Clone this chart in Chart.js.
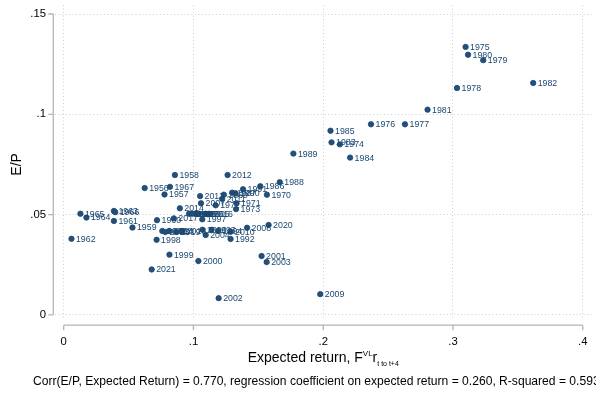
<!DOCTYPE html>
<html>
<head>
<meta charset="utf-8">
<script src="https://cdn.jsdelivr.net/npm/chart.js@4.4.1/dist/chart.umd.min.js"></script>
<style>
  html, body { margin: 0; padding: 0; background: #ffffff; }
  #wrap { width: 596px; height: 394px; }
</style>
</head>
<body>
<div id="wrap"><canvas id="c" width="596" height="394"></canvas></div>
<script>
// Year of each observation
const years = [
  1956, 1957, 1958, 1959, 1960, 1961, 1962, 1963, 1964, 1965,
  1966, 1967, 1968, 1969, 1970, 1971, 1972, 1973, 1974, 1975,
  1976, 1977, 1978, 1979, 1980, 1981, 1982, 1983, 1984, 1985,
  1986, 1987, 1988, 1989, 1990, 1991, 1992, 1993, 1994, 1995,
  1996, 1997, 1998, 1999, 2000, 2001, 2002, 2003, 2004, 2005,
  2006, 2007, 2008, 2009, 2010, 2011, 2012, 2013, 2014, 2015,
  2016, 2017, 2018, 2019, 2020, 2021, 2022, 2023, 2024
];
// Expected return, F^VL r (t to t+4)
const expectedReturn = [
  0.0624, 0.0777, 0.0857, 0.0530, 0.0719, 0.0387, 0.0060, 0.0387, 0.0175, 0.0129,
  0.0397, 0.0819, 0.0966, 0.1234, 0.1566, 0.1332, 0.1171, 0.1328, 0.2128, 0.3097,
  0.2368, 0.2630, 0.3031, 0.3233, 0.3116, 0.2804, 0.3618, 0.2064, 0.2207, 0.2056,
  0.1515, 0.1298, 0.1665, 0.1770, 0.1324, 0.1382, 0.1286, 0.1140, 0.1190, 0.1018,
  0.1043, 0.1068, 0.0716, 0.0815, 0.1038, 0.1525, 0.1194, 0.1564, 0.1094, 0.1094,
  0.1070, 0.1058, 0.1413, 0.1977, 0.1286, 0.1221, 0.1263, 0.1051, 0.0895, 0.0992,
  0.1119, 0.0849, 0.0913, 0.0867, 0.1579, 0.0678, 0.0760, 0.0783, 0.0813
];
// Earnings yield, E/P
const earningsYield = [
  0.0632, 0.0600, 0.0697, 0.0435, 0.0472, 0.0468, 0.0379, 0.0518, 0.0485, 0.0504,
  0.0512, 0.0638, 0.0504, 0.0599, 0.0599, 0.0556, 0.0546, 0.0527, 0.0850, 0.1336,
  0.0950, 0.0950, 0.1131, 0.1270, 0.1297, 0.1023, 0.1156, 0.0860, 0.0784, 0.0918,
  0.0641, 0.0609, 0.0661, 0.0804, 0.0606, 0.0626, 0.0378, 0.0424, 0.0418, 0.0504,
  0.0504, 0.0476, 0.0374, 0.0300, 0.0268, 0.0293, 0.0083, 0.0263, 0.0398, 0.0504,
  0.0424, 0.0556, 0.0434, 0.0103, 0.0414, 0.0578, 0.0697, 0.0592, 0.0531, 0.0504,
  0.0504, 0.0481, 0.0418, 0.0413, 0.0448, 0.0226, 0.0418, 0.0413, 0.0418
];
// Axis tick values
const xTickValues = [0, 0.1, 0.2, 0.3, 0.4];
const yTickValues = [0, 0.05, 0.1, 0.15];

const xTitleMain = 'Expected return, F';
const xTitleSup = 'VL';
const xTitleMid = 'r';
const xTitleSub = 't to t+4';
const yTitle = 'E/P';
const noteText = 'Corr(E/P, Expected Return) = 0.770, regression coefficient on expected return = 0.260, R-squared = 0.593';

const FONT = "'Liberation Sans', Arial, Helvetica, sans-serif";
const NAVY = '#1a476f';
const AXIS_GRAY = '#b4b4b4';

Chart.defaults.font.family = FONT;

// Stata-style tick labels: no leading zero
function fmt(v) {
  if (Math.abs(v) < 1e-9) return '0';
  let s = String(Math.round(v * 1000) / 1000);
  return s.replace(/^0\./, '.');
}

// Keep the plot region fixed: no extra margins for edge labels
function noPad(s) {
  s.paddingLeft = 0; s.paddingRight = 0; s.paddingTop = 0; s.paddingBottom = 0;
}

const points = years.map((yr, i) => ({ x: expectedReturn[i], y: earningsYield[i], year: yr }));

// Offset axis lines with outward ticks, spanning only the tick range
const axisPlugin = {
  id: 'offsetAxes',
  afterDraw(chart) {
    const { ctx, scales: { x, y } } = chart;
    ctx.save();
    ctx.strokeStyle = AXIS_GRAY;
    ctx.lineWidth = 1.3;
    const yAxisX = 53.3;
    const xAxisY = 325.2;
    ctx.beginPath();
    ctx.moveTo(yAxisX, y.getPixelForValue(yTickValues[yTickValues.length - 1]));
    ctx.lineTo(yAxisX, y.getPixelForValue(yTickValues[0]));
    yTickValues.forEach(v => {
      const py = y.getPixelForValue(v);
      ctx.moveTo(yAxisX, py);
      ctx.lineTo(yAxisX - 5, py);
    });
    ctx.moveTo(x.getPixelForValue(xTickValues[0]), xAxisY);
    ctx.lineTo(x.getPixelForValue(xTickValues[xTickValues.length - 1]), xAxisY);
    xTickValues.forEach(v => {
      const px = x.getPixelForValue(v);
      ctx.moveTo(px, xAxisY);
      ctx.lineTo(px, xAxisY + 5);
    });
    ctx.stroke();

    // Axis titles and note
    ctx.fillStyle = '#000';
    ctx.textBaseline = 'alphabetic';
    // y title
    ctx.save();
    ctx.translate(21, (y.getPixelForValue(0) + y.getPixelForValue(0.15)) / 2);
    ctx.rotate(-Math.PI / 2);
    ctx.font = '14px ' + FONT;
    ctx.textAlign = 'center';
    ctx.fillText(yTitle, 0, 0);
    ctx.restore();

    // x title with superscript and subscript
    const fMain = '14px ' + FONT, fSup = '8px ' + FONT, fSub = '7px ' + FONT;
    ctx.font = fMain; const w1 = ctx.measureText(xTitleMain).width;
    ctx.font = fSup;  const w2 = ctx.measureText(xTitleSup).width;
    ctx.font = fMain; const w3 = ctx.measureText(xTitleMid).width;
    ctx.font = fSub;  const w4 = ctx.measureText(xTitleSub).width;
    const total = w1 + w2 + w3 + w4;
    const cx = (x.getPixelForValue(0) + x.getPixelForValue(0.4)) / 2;
    let tx = cx - total / 2;
    const base = 362;
    ctx.textAlign = 'left';
    ctx.font = fMain; ctx.fillText(xTitleMain, tx, base); tx += w1;
    ctx.font = fSup;  ctx.fillText(xTitleSup, tx, base - 6); tx += w2;
    ctx.font = fMain; ctx.fillText(xTitleMid, tx, base); tx += w3;
    ctx.font = fSub;  ctx.fillText(xTitleSub, tx, base + 4);

    // note
    ctx.font = '12.1px ' + FONT;
    ctx.fillText(noteText, 33, 385);
    ctx.restore();
  }
};

// Year labels to the right of each marker
const yearLabelPlugin = {
  id: 'yearLabels',
  afterDatasetsDraw(chart) {
    const { ctx } = chart;
    const meta = chart.getDatasetMeta(0);
    ctx.save();
    ctx.font = '8.8px ' + FONT;
    ctx.fillStyle = NAVY;
    ctx.textAlign = 'left';
    ctx.textBaseline = 'middle';
    meta.data.forEach((el, i) => {
      ctx.fillText(String(points[i].year), el.x + 4.5, el.y + 0.5);
    });
    ctx.restore();
  }
};

new Chart(document.getElementById('c'), {
  type: 'scatter',
  data: {
    datasets: [{
      data: points,
      pointRadius: 2.7,
      pointHoverRadius: 2.7,
      pointBackgroundColor: '#234f7c',
      pointBorderColor: NAVY,
      pointBorderWidth: 0.8
    }]
  },
  options: {
    responsive: false,
    animation: false,
    devicePixelRatio: 1,
    layout: { padding: { top: 5, left: 0, right: 0, bottom: 0 } },
    plugins: { legend: { display: false }, tooltip: { enabled: false } },
    scales: {
      x: {
        type: 'linear',
        min: -0.0067,
        max: 0.4075,
        afterBuildTicks: s => { s.ticks = xTickValues.map(v => ({ value: v })); },
        afterFit: s => { s.height = 75; noPad(s); },
        ticks: { callback: v => fmt(v), color: '#000', font: { size: 11.3 }, padding: 16, maxRotation: 0, autoSkip: false },
        grid: { color: '#cfcfcf', lineWidth: 1, drawTicks: false },
        border: { display: false, dash: [1, 2.5] }
      },
      y: {
        type: 'linear',
        min: -0.0021,
        max: 0.1545,
        afterBuildTicks: s => { s.ticks = yTickValues.map(v => ({ value: v })); },
        afterFit: s => { s.width = 55; noPad(s); },
        ticks: { callback: v => fmt(v), color: '#000', font: { size: 11.3 }, padding: 9, autoSkip: false },
        grid: { color: '#cfcfcf', lineWidth: 1, drawTicks: false },
        border: { display: false, dash: [1, 2.5] }
      }
    }
  },
  plugins: [axisPlugin, yearLabelPlugin]
});
</script>
</body>
</html>
